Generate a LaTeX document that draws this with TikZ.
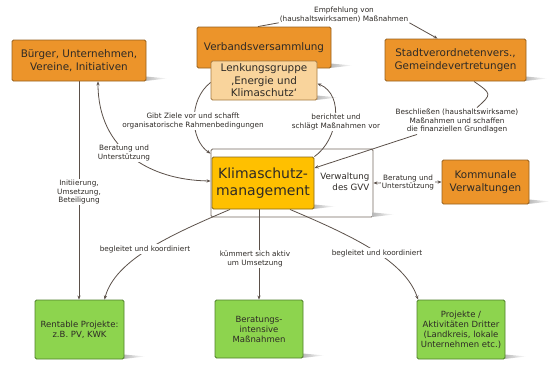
\documentclass[tikz,border=0pt]{standalone}
\usepackage{fontspec}
\setmainfont{DejaVu Sans}
\usetikzlibrary{arrows.meta}
\pgfdeclarelayer{back}
\pgfdeclarelayer{mid}
\pgfsetlayers{back,mid,main}
\definecolor{orfill}{HTML}{EC942A}
\definecolor{orline}{HTML}{95601E}
\definecolor{lkfill}{HTML}{F9D49C}
\definecolor{lkline}{HTML}{A57A42}
\definecolor{yefill}{HTML}{FFC000}
\definecolor{yeline}{HTML}{86681A}
\definecolor{grfill}{HTML}{8DD44E}
\definecolor{grline}{HTML}{4F7F2A}
\definecolor{gvline}{HTML}{756A60}
\definecolor{conc}{HTML}{5B5049}
\definecolor{txt}{HTML}{2E2A26}
\tikzset{
  box/.style={rectangle, rounded corners=1.5pt, line width=0.9pt, inner sep=0pt, align=center, text=txt},
  obox/.style={box, fill=orfill, draw=orline, font=\fontsize{10.4}{13}\selectfont},
  lbox/.style={box, fill=lkfill, draw=lkline, font=\fontsize{10.4}{12.5}\selectfont},
  ybox/.style={box, fill=yefill, draw=yeline, font=\fontsize{14}{17}\selectfont},
  gbox/.style={box, fill=grfill, draw=grline, font=\fontsize{8.5}{10}\selectfont},
  wbox/.style={box, fill=white, draw=gvline},
  lab/.style={fill=white, inner sep=1pt, align=center, text=txt, font=\fontsize{7.3}{8.7}\selectfont},
  con/.style={draw=conc, line width=0.8pt},
  arr/.style={con, -{Stealth[length=4pt,width=3.2pt]}},
  arrb/.style={con, {Stealth[length=4pt,width=3.2pt]}-{Stealth[length=4pt,width=3.2pt]}},
}
\newcommand\bshadow[1]{\shade[left color=black!28,right color=white] ([xshift=-1pt,yshift=5pt]#1.south east) -- ([xshift=21pt,yshift=3pt]#1.south east) -- ([xshift=-1pt,yshift=0.5pt]#1.south east) -- cycle;}
\begin{document}
\begin{tikzpicture}[x=1pt,y=-1pt]
\useasboundingbox (0,0) rectangle (549,372);
% GVV outer box on back layer
\begin{pgfonlayer}{back}
\node[wbox, minimum width=162pt, minimum height=68pt] (gvv) at (292,183) {};
\end{pgfonlayer}
% boxes
\node[obox, minimum width=134pt, minimum height=41pt] (bu) at (79,60.5) {Bürger, Unternehmen,\\Vereine, Initiativen};
\node[obox, minimum width=134pt, minimum height=41pt] (verb) at (264,47.5) {Verbandsversammlung};
\node[lbox, minimum width=106pt, minimum height=39pt] (lenk) at (264,80.5) {Lenkungsgruppe\\‚Energie und\\Klimaschutz‘};
\node[obox, minimum width=141pt, minimum height=42pt] (stadt) at (455.5,60) {Stadtverordnetenvers.,\\Gemeindevertretungen};
\node[ybox, minimum width=102pt, minimum height=52pt] (klima) at (263,183) {Klimaschutz-\\management};
\node[anchor=east, align=right, inner sep=0pt, text=txt, font=\fontsize{8.7}{10.5}\selectfont] (gvvt) at (369.5,182) {Verwaltung\\des GVV};
\node[obox, minimum width=87pt, minimum height=44pt] (kom) at (485.5,182) {Kommunale\\Verwaltungen};
\node[gbox, minimum width=89pt, minimum height=59pt] (g1) at (79.5,329.5) {Rentable Projekte:\\z.B. PV, KWK};
\node[gbox, minimum width=88pt, minimum height=58pt] (g2) at (259,329) {Beratungs-\\intensive\\Maßnahmen};
\node[gbox, minimum width=88pt, minimum height=59pt] (g3) at (461,329.5) {Projekte /\\Aktivitäten Dritter\\(Landkreis, lokale\\Unternehmen etc.)};
% labels
\node[lab] (lE) at (344,15) {Empfehlung von\\(haushaltswirksamen) Maßnahmen};
\node[lab] (lG) at (193,121) {Gibt Ziele vor und schafft\\organisatorische Rahmenbedingungen};
\node[lab] (lB) at (336,122) {berichtet und\\schlägt Maßnahmen vor};
\node[lab] (lS) at (457,121) {Beschließen (haushaltswirksame)\\Maßnahmen und schaffen\\die finanziellen Grundlagen};
\node[lab] (lBU) at (124,153) {Beratung und\\Unterstützung};
\node[lab] (lI) at (79,192) {Initiierung,\\Umsetzung,\\Beteiligung};
\node[lab] (lK1) at (145,249) {begleitet und koordiniert};
\node[lab] (lK2) at (255,259) {kümmert sich aktiv\\um Umsetzung};
\node[lab] (lK3) at (377,253) {begleitet und koordiniert};
\node[lab] (lV) at (408,182.5) {Beratung und\\Unterstützung};
% shadows and connectors
\begin{pgfonlayer}{mid}
\bshadow{bu}
\bshadow{verb}
\bshadow{lenk}
\bshadow{stadt}
\bshadow{gvv}
\bshadow{klima}
\bshadow{kom}
\bshadow{g1}
\bshadow{g2}
\bshadow{g3}
\draw[con] ([xshift=-6pt]verb.north) -- ([yshift=1pt]lE.south west);
\draw[arr] ([yshift=1pt]lE.south east) -- ([xshift=-18pt]stadt.north);
\draw[arr] ([yshift=-2pt]lenk.west) .. controls (188,100) and (190,140) .. ([yshift=-5pt]gvv.north west);
\draw[arr] (klima.north east) .. controls (338,140) and (345,95) .. ([yshift=-3pt]lenk.east);
\draw[con] ([xshift=18.5pt]stadt.south) .. controls (492,94) .. ([xshift=20pt]lS.north);
\draw[arr] ([xshift=-40pt]lS.south) -- ([yshift=15pt]klima.east);
\draw[arrb] ([xshift=19pt]bu.south) .. controls (98,150) and (150,180) .. ([yshift=2pt]gvv.west);
\draw[arr] (bu.south) -- (bu.south |- g1.north);
\draw[arr] ([xshift=-33pt]klima.south) .. controls (170,235) and (115,260) .. ([xshift=25pt]g1.north);
\draw[arr] (g2.north |- klima.south) -- (g2.north);
\draw[arr] ([xshift=27pt]klima.south) .. controls (350,235) and (405,260) .. ([xshift=-43pt]g3.north);
\draw[arrb] (gvv.east) -- (kom.west);
\end{pgfonlayer}
\end{tikzpicture}
\end{document}
